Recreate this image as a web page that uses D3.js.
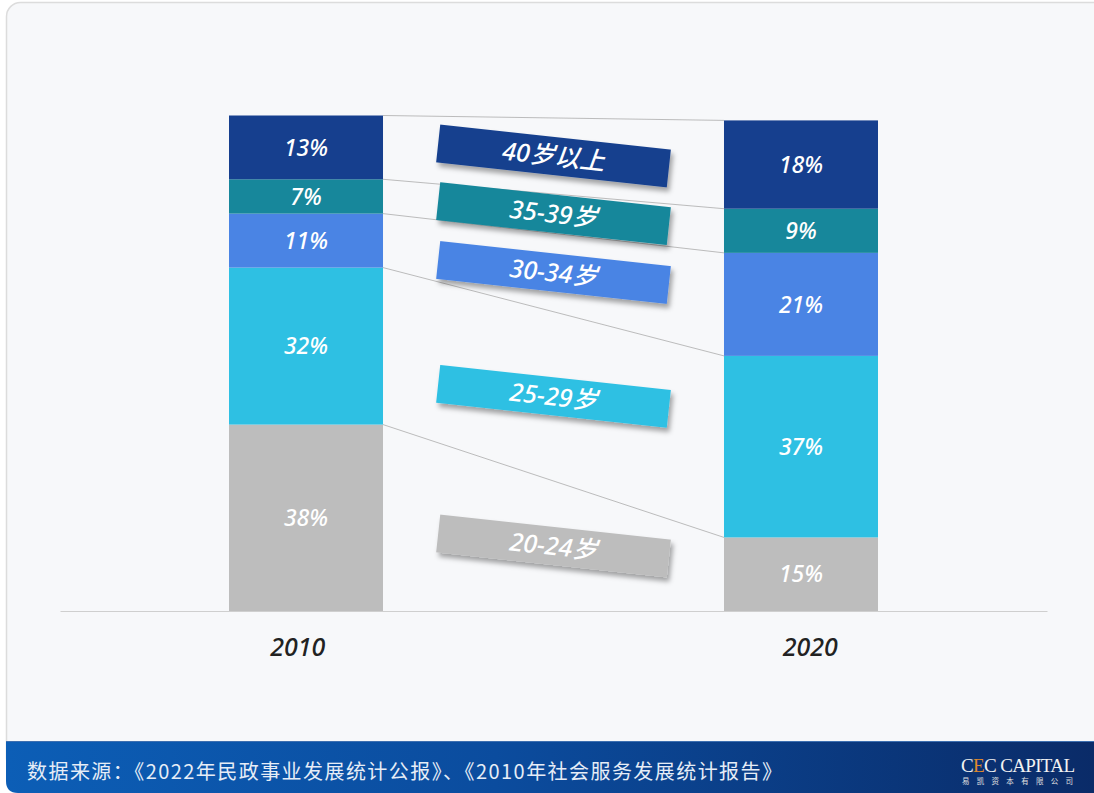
<!DOCTYPE html>
<html>
<head>
<meta charset="utf-8">
<script src="https://cdn.jsdelivr.net/npm/d3@7"></script>
<style>
  html, body { margin: 0; padding: 0; background: #ffffff; }
  svg { display: block; }
</style>
</head>
<body>
<svg id="chart" width="1094" height="793"></svg>
<script>
// Age groups, ordered bottom to top of each stacked bar
const years = ["2010", "2020"];
const groups = ["20-24岁", "25-29岁", "30-34岁", "35-39岁", "40岁以上"];
const share2010 = [38, 32, 11, 7, 13];
const share2020 = [15, 37, 21, 9, 18];
const groupColors = ["#bdbdbd", "#2ec0e3", "#4a84e4", "#17879b", "#163f8e"];
const sourceNote = "数据来源：《2022年民政事业发展统计公报》、《2010年社会服务发展统计报告》";

const W = 1094, H = 793;
const svg = d3.select("#chart");
const defs = svg.append("defs");
const latinFont = "'Noto Sans', 'Open Sans', 'Noto Sans CJK SC', sans-serif";

// Page card
svg.append("rect")
  .attr("x", 6.5).attr("y", 2.5)
  .attr("width", 1110).attr("height", 770)
  .attr("rx", 14)
  .attr("fill", "#f7f8fa")
  .attr("stroke", "#dcdcdc")
  .attr("stroke-width", 1.5);

// Rows for the stack: one per year
const rows = years.map((yr, i) => {
  const r = { year: yr };
  const vals = i === 0 ? share2010 : share2020;
  groups.forEach((g, j) => { r[g] = vals[j]; });
  return r;
});
const series = d3.stack().keys(groups)(rows);

const x = d3.scalePoint().domain(years).range([60, 1047]).padding(0.497);
// year captions sit slightly wider apart than the bar centres
const xLabel = d3.scalePoint().domain(years).range([60, 1047]).padding(0.463);
const y = d3.scaleLinear().domain([0, 101]).range([611, 115.5]);
const color = d3.scaleOrdinal().domain(groups).range(groupColors);
const barW = 154;

// Connector lines between matching segment tops
const conn = svg.append("g").attr("class", "connectors");
series.forEach(s => {
  conn.append("line")
    .attr("x1", x(years[0]) + barW / 2)
    .attr("y1", y(s[0][1]))
    .attr("x2", x(years[1]) - barW / 2)
    .attr("y2", y(s[1][1]))
    .attr("stroke", "#b4b4b4")
    .attr("stroke-width", 0.9);
});

// Stacked bars
const barG = svg.append("g").attr("class", "bars");
series.forEach(s => {
  barG.selectAll(null)
    .data(s)
    .join("rect")
    .attr("x", d => x(d.data.year) - barW / 2)
    .attr("y", d => y(d[1]))
    .attr("width", barW)
    .attr("height", d => y(d[0]) - y(d[1]))
    .attr("fill", color(s.key));
  barG.selectAll(null)
    .data(s)
    .join("text")
    .attr("x", d => x(d.data.year))
    .attr("y", d => (y(d[0]) + y(d[1])) / 2)
    .attr("dy", "0.36em")
    .attr("text-anchor", "middle")
    .attr("fill", "#ffffff")
    .attr("font-family", latinFont)
    .attr("font-style", "italic")
    .attr("font-weight", 500)
    .attr("font-size", 23)
    .text(d => (d[1] - d[0]) + "%");
});

// Axis with year labels
const axis = svg.append("g")
  .attr("transform", "translate(0,611)")
  .call(d3.axisBottom(xLabel).tickSize(0).tickPadding(27));
axis.select(".domain").attr("stroke", "#cfcfcf").attr("stroke-width", 1.2);
axis.selectAll(".tick text")
  .attr("fill", "#222")
  .attr("font-family", latinFont)
  .attr("font-style", "italic")
  .attr("font-weight", 500)
  .attr("font-size", 25);

// Tilted legend tags
const shadow = defs.append("filter").attr("id", "tagShadow")
  .attr("x", "-10%").attr("y", "-40%").attr("width", "130%").attr("height", "200%");
shadow.append("feDropShadow")
  .attr("dx", 3).attr("dy", 4).attr("stdDeviation", 2.5)
  .attr("flood-color", "#000").attr("flood-opacity", 0.35);

const midX = (x(years[0]) + x(years[1])) / 2;
const tagW = 232, tagH = 38;
const tags = svg.append("g").attr("class", "tags");
series.forEach(s => {
  const c0 = (y(s[0][0]) + y(s[0][1])) / 2;
  const c1 = (y(s[1][0]) + y(s[1][1])) / 2;
  const g = tags.append("g")
    .attr("transform", `translate(${midX},${(c0 + c1) / 2}) rotate(6.2)`);
  g.append("rect")
    .attr("x", -tagW / 2).attr("y", -tagH / 2)
    .attr("width", tagW).attr("height", tagH)
    .attr("fill", color(s.key))
    .attr("filter", "url(#tagShadow)");
  g.append("text")
    .attr("text-anchor", "middle")
    .attr("dy", "0.36em")
    .attr("fill", "#ffffff")
    .attr("font-family", latinFont)
    .attr("font-style", "italic")
    .attr("font-weight", 500)
    .attr("font-size", 25)
    .text(s.key);
});

// Footer band
const grad = defs.append("linearGradient").attr("id", "footGrad")
  .attr("x1", "0%").attr("x2", "100%").attr("y1", "0%").attr("y2", "0%");
grad.append("stop").attr("offset", "0%").attr("stop-color", "#0c5eb6");
grad.append("stop").attr("offset", "45%").attr("stop-color", "#0b4c9e");
grad.append("stop").attr("offset", "100%").attr("stop-color", "#0a2b68");

const fy = 741, r = 12;
svg.append("path")
  .attr("d", `M6,${fy} H${W} V${H} H${6 + r} Q6,${H} 6,${H - r} Z`)
  .attr("fill", "url(#footGrad)");
svg.append("line")
  .attr("x1", 6).attr("x2", W).attr("y1", fy + 0.5).attr("y2", fy + 0.5)
  .attr("stroke", "#3d6fb0").attr("stroke-width", 1);

svg.append("text")
  .attr("x", 27).attr("y", 779)
  .attr("fill", "#e6edf7")
  .attr("font-family", "'Noto Sans CJK SC', sans-serif")
  .attr("font-size", 20)
  .attr("textLength", 755)
  .text(sourceNote);

// Logo
const logo = svg.append("text")
  .attr("x", 961).attr("y", 772)
  .attr("fill", "#f2f2f2")
  .attr("font-family", "'Liberation Serif', serif")
  .attr("font-size", 19)
  .attr("textLength", 114);
logo.append("tspan").text("C");
logo.append("tspan").attr("fill", "#e08a2c").text("E");
logo.append("tspan").text("C CAPITAL");
svg.append("text")
  .attr("x", 962).attr("y", 784)
  .attr("fill", "#e0e0e0")
  .attr("font-family", "'Noto Sans CJK SC', serif")
  .attr("font-size", 7.5)
  .attr("textLength", 111)
  .text("易凯资本有限公司");
</script>
</body>
</html>
